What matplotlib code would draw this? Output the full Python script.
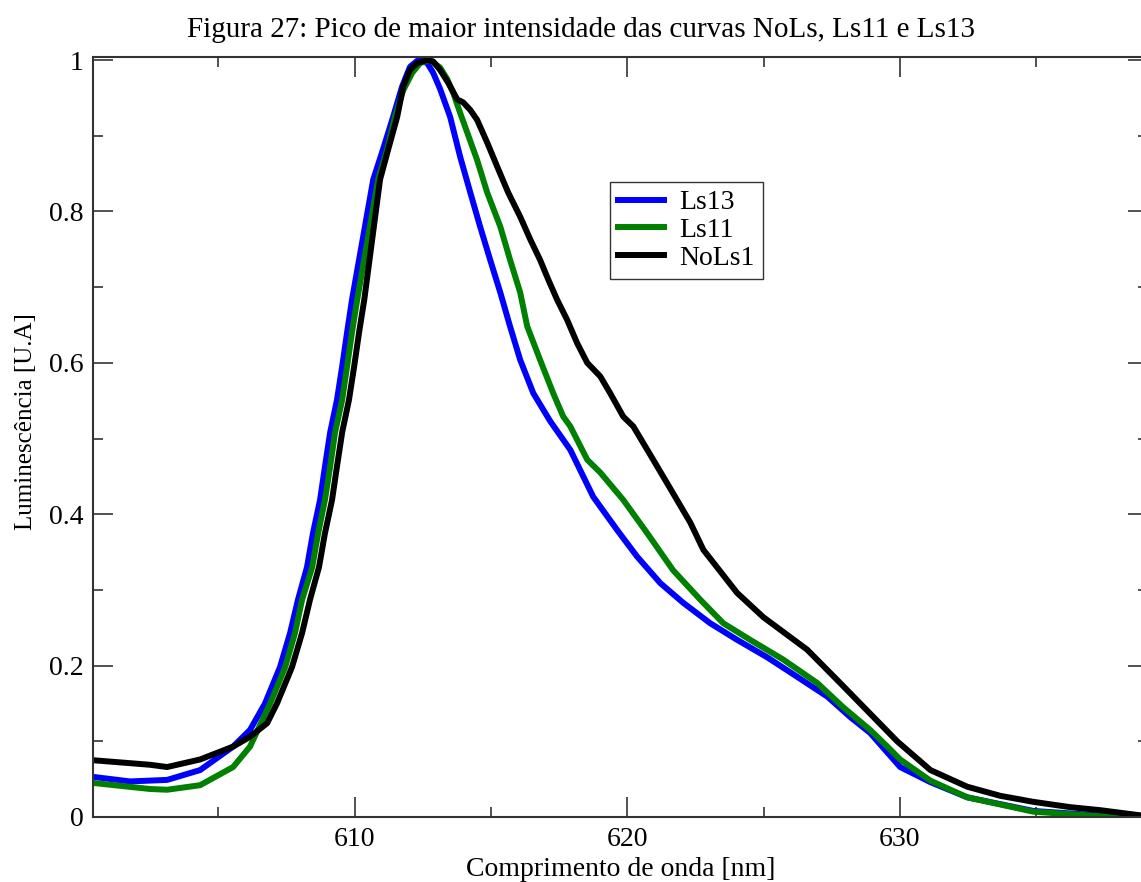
import matplotlib.pyplot as plt
from matplotlib.ticker import MultipleLocator

plt.rcParams['font.family'] = ['Liberation Serif', 'DejaVu Serif']

# wavelength [nm] / luminescence [U.A]
ls13_x = [600.40, 601.76, 603.12, 604.33, 605.54, 606.16, 606.71, 607.26, 607.63,
          607.92, 608.25, 608.47, 608.73, 608.91, 609.10, 609.35, 609.54, 609.72,
          609.90, 610.68, 611.04, 611.41, 611.74, 612.03, 612.33, 612.66, 612.88,
          613.13, 613.50, 613.87, 614.24, 614.60, 614.97, 615.34, 615.70, 616.07,
          616.55, 617.17, 617.91, 618.75, 619.63, 620.36, 621.21, 622.05, 623.04,
          624.03, 625.13, 626.24, 627.34, 628.18, 628.91, 630.01, 631.12, 632.47,
          634.90, 637.35, 638.86]
ls13_y = [0.053, 0.047, 0.049, 0.062, 0.093, 0.115, 0.150, 0.198, 0.243,
          0.287, 0.330, 0.375, 0.419, 0.463, 0.508, 0.551, 0.595, 0.640,
          0.683, 0.842, 0.882, 0.925, 0.965, 0.991, 1.000, 0.996, 0.983,
          0.962, 0.925, 0.872, 0.825, 0.780, 0.736, 0.693, 0.648, 0.604,
          0.560, 0.523, 0.485, 0.423, 0.379, 0.344, 0.309, 0.283, 0.256,
          0.234, 0.211, 0.185, 0.159, 0.132, 0.111, 0.066, 0.046, 0.026,
          0.008, 0.002, 0.0]

ls11_x = [600.40, 602.49, 603.12, 604.33, 605.54, 606.16, 606.90, 607.45, 607.81,
          608.07, 608.44, 608.66, 608.91, 609.10, 609.28, 609.54, 609.72, 609.90,
          610.09, 610.86, 611.19, 611.48, 611.78, 612.11, 612.40, 612.77, 613.13,
          613.39, 613.61, 613.87, 614.13, 614.49, 614.86, 615.34, 615.70, 616.07,
          616.33, 616.80, 617.28, 617.65, 617.91, 618.53, 619.01, 619.85, 620.73,
          621.68, 622.68, 623.52, 624.51, 625.72, 626.97, 627.92, 628.91, 629.54,
          630.01, 631.12, 632.47, 634.90, 637.35, 638.86]
ls11_y = [0.045, 0.037, 0.036, 0.042, 0.066, 0.093, 0.150, 0.198, 0.243,
          0.287, 0.330, 0.375, 0.419, 0.463, 0.508, 0.551, 0.595, 0.640,
          0.683, 0.842, 0.882, 0.925, 0.960, 0.983, 0.996, 1.000, 0.990,
          0.975, 0.957, 0.930, 0.904, 0.868, 0.825, 0.780, 0.736, 0.693,
          0.648, 0.604, 0.560, 0.529, 0.516, 0.472, 0.455, 0.419, 0.375,
          0.326, 0.287, 0.256, 0.234, 0.208, 0.177, 0.145, 0.115, 0.093,
          0.076, 0.048, 0.026, 0.007, 0.001, 0.0]

nols_x = [600.40, 602.49, 603.12, 604.33, 605.54, 606.16, 606.79, 607.15, 607.70,
          608.07, 608.36, 608.69, 608.91, 609.17, 609.35, 609.54, 609.79, 609.98,
          610.16, 610.35, 610.93, 611.23, 611.56, 611.78, 612.03, 612.29, 612.66,
          612.88, 613.13, 613.43, 613.76, 613.98, 614.24, 614.49, 614.86, 615.23,
          615.63, 616.07, 616.44, 616.80, 617.10, 617.43, 617.79, 618.16, 618.53,
          619.01, 619.37, 619.85, 620.22, 620.95, 621.46, 622.31, 622.79, 624.03,
          624.99, 626.60, 627.81, 629.90, 631.12, 632.47, 633.68, 634.90, 636.25,
          637.35, 638.86]
nols_y = [0.075, 0.069, 0.066, 0.076, 0.093, 0.106, 0.124, 0.150, 0.198,
          0.243, 0.287, 0.330, 0.375, 0.419, 0.463, 0.508, 0.551, 0.595,
          0.640, 0.683, 0.842, 0.882, 0.925, 0.965, 0.987, 0.996, 1.000,
          0.998, 0.987, 0.970, 0.948, 0.944, 0.934, 0.921, 0.891, 0.859,
          0.825, 0.793, 0.763, 0.736, 0.710, 0.683, 0.657, 0.626, 0.600,
          0.582, 0.560, 0.529, 0.516, 0.472, 0.441, 0.389, 0.353, 0.296,
          0.264, 0.221, 0.177, 0.100, 0.062, 0.040, 0.028, 0.020, 0.013,
          0.009, 0.002]

fig = plt.figure(figsize=(11.41, 8.82), dpi=100)
ax = fig.add_axes([0.0815, 0.0737, 0.9246, 0.8617])

ax.plot(ls13_x, ls13_y, color='#0000ff', lw=4.3, label='Ls13')
ax.plot(ls11_x, ls11_y, color='#008000', lw=4.3, label='Ls11')
ax.plot(nols_x, nols_y, color='black', lw=4.3, label='NoLs1')

ax.set_xlim(600.4, 639.1)
ax.set_ylim(0, 1.004)
ax.xaxis.set_major_locator(MultipleLocator(10))
ax.xaxis.set_minor_locator(MultipleLocator(5))
ax.yaxis.set_major_locator(MultipleLocator(0.2))
ax.yaxis.set_minor_locator(MultipleLocator(0.1))
ax.yaxis.set_major_formatter(lambda v, p: '0' if v == 0 else ('1' if abs(v - 1) < 1e-9 else f'{v:.1f}'))

ax.tick_params(which='both', direction='in', top=True, right=True,
               labelsize=20, width=1.2, pad=7, colors='#333333', labelcolor='black')
ax.tick_params(which='major', length=14.4)
ax.tick_params(which='minor', length=7.2)
for s in ax.spines.values():
    s.set_linewidth(1.5)
    s.set_color('#333333')

ax.set_xlabel('Comprimento de onda [nm]', fontsize=20, labelpad=4)
ax.set_ylabel('Luminescência [U.A]', fontsize=18)
ax.yaxis.set_label_coords(-0.053, 0.52)
fig.text(0.509, 0.966, 'Figura 27: Pico de maior intensidade das curvas NoLs, Ls11 e Ls13',
         fontsize=21, ha='center', va='center')

ax.legend(loc='upper left', bbox_to_anchor=(0.49, 0.836), fontsize=20,
          frameon=True, fancybox=False, edgecolor='#333333', framealpha=1,
          handlelength=1.65, borderpad=0.3, labelspacing=0.08, handletextpad=0.55,
          borderaxespad=0)

plt.savefig('out.png', dpi=100)
